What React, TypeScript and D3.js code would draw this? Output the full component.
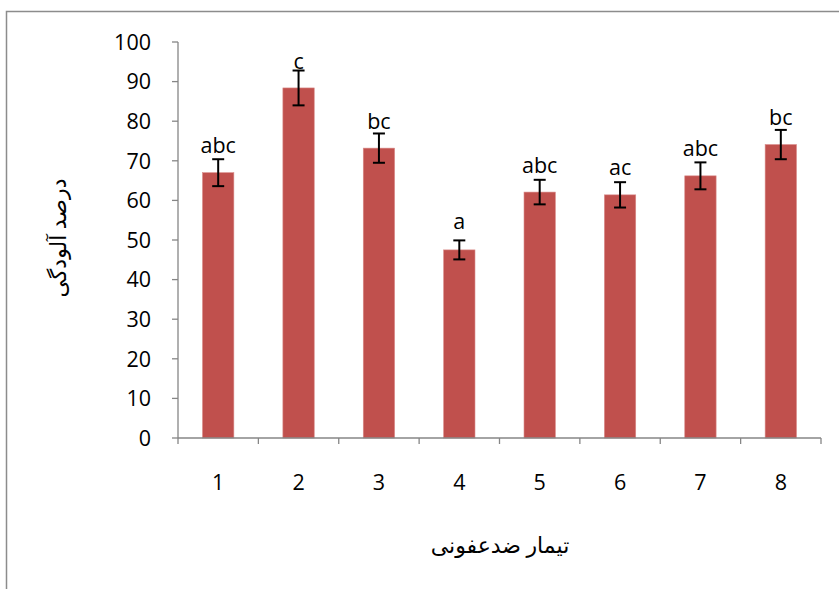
import * as d3 from 'd3';

const treatments = ['1', '2', '3', '4', '5', '6', '7', '8'];
const values = [67.0, 88.4, 73.2, 47.5, 62.1, 61.4, 66.2, 74.1];
const errors = [3.4, 4.4, 3.7, 2.4, 3.1, 3.2, 3.4, 3.7];
const letters = ['abc', 'c', 'bc', 'a', 'abc', 'ac', 'abc', 'bc'];
// baseline of the letter labels, in axis units
const letterPos = [72.0, 93.2, 78.0, 52.8, 67.0, 66.4, 71.3, 79.0];
const yTicks = [0, 10, 20, 30, 40, 50, 60, 70, 80, 90, 100];

const xTitle = 'تیمار ضدعفونی';
const yTitle = 'درصد آلودگی';

function App() {
    const width = 839, height = 589;
    const left = 178, right = 821, top = 42, bottom = 438;

    const x = d3.scaleBand<string>()
        .domain(treatments)
        .range([left, right])
        .paddingInner(0.61)
        .paddingOuter(0.305);

    const y = d3.scaleLinear().domain([0, 100]).range([bottom, top]);

    const step = x.step();
    const axisColor = '#868686';
    const font = '"Open Sans", "Noto Sans", sans-serif';
    const arabicFont = '"Times New Roman", "DejaVu Serif", "DejaVu Sans", serif';

    return (
        <svg width={width} height={height} style={{ position: 'absolute', left: 0, top: 0, background: '#fff' }}>
            <rect x={6.5} y={11.5} width={900} height={700} fill="#fff" stroke="#8c8c8c" strokeWidth={1.5} />

            {/* y axis */}
            <line x1={left} x2={left} y1={top} y2={bottom} stroke={axisColor} strokeWidth={1.3} />
            {yTicks.map(t => (
                <g key={t}>
                    <line x1={left - 6} x2={left} y1={y(t)} y2={y(t)} stroke={axisColor} strokeWidth={1.3} />
                    <text x={left - 27} y={y(t)} dy="0.36em" textAnchor="end"
                        fontFamily={font} fontSize={21.5} fill="#000">{t}</text>
                </g>
            ))}

            {/* bars */}
            {treatments.map((c, i) => (
                <rect key={c} x={x(c)} y={y(values[i])} width={x.bandwidth()}
                    height={y(0) - y(values[i])} fill="#C0504D" stroke="#d98a88" strokeWidth={0.6} />
            ))}

            {/* error bars */}
            {treatments.map((c, i) => {
                const cx = (x(c) as number) + x.bandwidth() / 2;
                const y1 = y(values[i] + errors[i]);
                const y0 = y(values[i] - errors[i]);
                return (
                    <g key={c} stroke="#000" strokeWidth={2}>
                        <line x1={cx} x2={cx} y1={y1} y2={y0} />
                        <line x1={cx - 6} x2={cx + 6} y1={y1} y2={y1} />
                        <line x1={cx - 6} x2={cx + 6} y1={y0} y2={y0} />
                    </g>
                );
            })}

            {/* letters */}
            {treatments.map((c, i) => (
                <text key={c} x={(x(c) as number) + x.bandwidth() / 2} y={y(letterPos[i])}
                    textAnchor="middle" fontFamily={font} fontSize={21.5} fill="#000">{letters[i]}</text>
            ))}

            {/* x axis */}
            <line x1={left} x2={right} y1={bottom} y2={bottom} stroke={axisColor} strokeWidth={1.3} />
            {d3.range(treatments.length + 1).map(k => (
                <line key={k} x1={left + k * step} x2={left + k * step} y1={bottom} y2={bottom + 6}
                    stroke={axisColor} strokeWidth={1.3} />
            ))}
            {treatments.map(c => (
                <text key={c} x={(x(c) as number) + x.bandwidth() / 2} y={490}
                    textAnchor="middle" fontFamily={font} fontSize={21.5} fill="#000">{c}</text>
            ))}

            <text x={500} y={553} textAnchor="middle" direction="rtl"
                fontFamily={arabicFont} fontSize={22} fill="#000">{xTitle}</text>
            <text transform={`translate(66, 238) rotate(-90)`} textAnchor="middle" direction="rtl"
                fontFamily={arabicFont} fontSize={22} fill="#000">{yTitle}</text>
        </svg>
    );
}

export default App;
